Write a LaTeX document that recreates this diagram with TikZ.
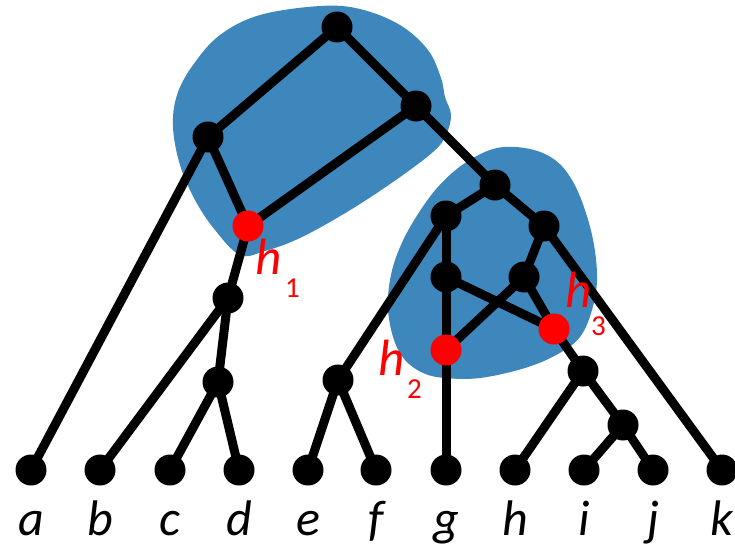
\documentclass[tikz,border=0pt]{standalone}
\usepackage{fontspec}
\setmainfont{Carlito}
\pgfdeclarelayer{blobs}
\pgfdeclarelayer{edges}
\pgfsetlayers{blobs,edges,main}
\begin{document}
\begin{tikzpicture}[x=1pt,y=-1pt,
  edge/.style={line width=9pt,black},
  vtx/.style={circle,fill=black,inner sep=0pt,minimum size=31pt},
  hyb/.style={circle,fill=red,inner sep=0pt,minimum size=31pt},
  leaflabel/.style={anchor=base,inner sep=0pt,font=\fontsize{50}{58}\selectfont\itshape},
  hlabel/.style={anchor=base west,inner sep=0pt,text=red,font=\fontsize{51}{60}\selectfont\itshape},
  hsub/.style={anchor=base west,inner sep=0pt,text=red,font=\fontsize{29}{34}\selectfont}]
\definecolor{blobblue}{RGB}{61,135,189}
\useasboundingbox (0,0) rectangle (735,549);

% internal vertices
\node[vtx] (root) at (337,27) {};
\node[vtx] (A) at (208,137) {};
\node[vtx] (B) at (416,106) {};
\node[hyb] (h1) at (248,226) {};
\node[vtx] (C) at (228,298) {};
\node[vtx] (D) at (218,382) {};
\node[vtx] (E) at (495,185) {};
\node[vtx] (F) at (446,216) {};
\node[vtx] (G) at (544,226) {};
\node[vtx] (H) at (446,277) {};
\node[vtx] (I) at (524,277) {};
\node[hyb] (h2) at (446,350) {};
\node[hyb] (h3) at (554,329) {};
\node[vtx] (J) at (338,380) {};
\node[vtx] (K) at (583,371) {};
\node[vtx] (L) at (623,425) {};

% leaves and their labels
\foreach \n/\x in {a/31,b/100,c/170,d/239,e/308,f/376,g/446,h/515,i/584,j/653,k/722}{
  \node[vtx] (\n) at (\x,470) {};
  \node[leaflabel] (lab\n) at (\x,535) {\n};
}

% shaded regions
\begin{pgfonlayer}{blobs}
\fill[blobblue] plot[smooth cycle,tension=0.6] coordinates {
  (173,127) (177,95) (193,65) (220,35) (260,15) (320,6) (360,9) (400,25)
  (428,50) (441,78) (445,97) (451,115) (446,135) (433,152) (393,182)
  (347,212) (300,238) (265,251) (240,255) (215,230) (195,200) (180,165)};
\fill[blobblue] plot[smooth cycle,tension=0.6] coordinates {
  (497,148) (530,149) (555,160) (572,180) (585,210) (594,245) (597,280)
  (592,310) (580,337) (558,354) (525,368) (480,378) (445,378) (423,373)
  (405,360) (394,340) (388,310) (390,280) (398,252) (413,222) (437,188) (465,163)};
\end{pgfonlayer}

% edges
\begin{pgfonlayer}{edges}
\foreach \u/\v in {root/A,root/B,A/a,A/h1,B/h1,B/E,h1/C,C/b,C/D,D/c,D/d,
  E/F,E/G,F/H,F/J,J/e,J/f,H/h2,h2/g,H/h3,G/I,I/h2,I/h3,h3/K,G/k,K/h,K/L,L/i,L/j}{
  \draw[edge] (\u.center) -- (\v.center);
}
\end{pgfonlayer}

% hybrid labels
\node[hlabel] (hl1) at (255,274) {h};
\node[hsub] (hs1) at (285,297) {1};
\node[hlabel] (hl2) at (378,375) {h};
\node[hsub] (hs2) at (407,398) {2};
\node[hlabel] (hl3) at (565,307) {h};
\node[hsub] (hs3) at (591,335) {3};
\end{tikzpicture}
\end{document}
